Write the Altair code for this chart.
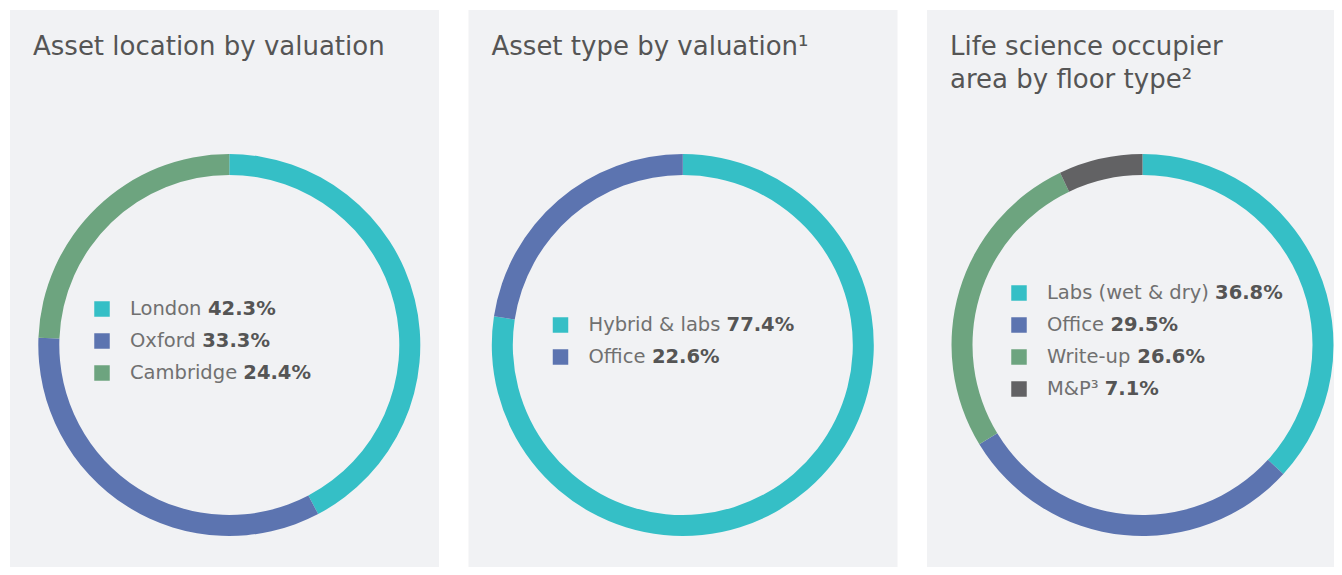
import altair as alt
import pandas as pd

# ---- data ----
titles = [
    ["Asset location by valuation"],
    ["Asset type by valuation\u00b9"],
    ["Life science occupier", "area by floor type\u00b2"],
]
cats1 = ["London", "Oxford", "Cambridge"]
vals1 = [42.3, 33.3, 24.4]
cats2 = ["Hybrid & labs", "Office"]
vals2 = [77.4, 22.6]
cats3 = ["Labs (wet & dry)", "Office", "Write-up", "M&P\u00b3"]
vals3 = [36.8, 29.5, 26.6, 7.1]

TEAL, BLUE, GREEN, DARK = "#35BFC6", "#5C74B0", "#6DA47F", "#626264"
colors1 = [TEAL, BLUE, GREEN]
colors2 = [TEAL, BLUE]
colors3 = [TEAL, BLUE, GREEN, DARK]

FONT = "DejaVu Sans"
LEG_SIZE = 19.5
BG = "#F1F2F4"

# DejaVu Sans advance widths (units per 2048) for measuring label text
W = {' ': 651, 'a': 1255, 'b': 1300, 'c': 1126, 'd': 1300, 'e': 1260, 'f': 721,
     'g': 1300, 'h': 1298, 'i': 569, 'j': 569, 'k': 1186, 'l': 569, 'm': 1995,
     'n': 1298, 'o': 1253, 'p': 1300, 'q': 1300, 'r': 842, 's': 1067, 't': 803,
     'u': 1298, 'v': 1212, 'w': 1675, 'x': 1212, 'y': 1212, 'z': 1075,
     'A': 1401, 'B': 1405, 'C': 1430, 'D': 1577, 'E': 1294, 'F': 1178, 'G': 1587,
     'H': 1540, 'I': 604, 'L': 1141, 'M': 1767, 'O': 1612, 'P': 1235, 'W': 2025,
     '&': 1595, '(': 799, ')': 799, '-': 739, '\u00b3': 821}


def text_width(s, size):
    return sum(W.get(ch, 1250) for ch in s) * size / 2048.0


def panel(title, cats, vals, colors, cx, cy, width, height):
    n = len(cats)
    df = pd.DataFrame({
        "cat": cats,
        "val": vals,
        "idx": list(range(n)),
        "pct": [f"{v:.1f}%" for v in vals],
        "name_w": [text_width(c + " ", LEG_SIZE) for c in cats],
    })
    color = alt.Color("cat:N", scale=alt.Scale(domain=cats, range=colors), legend=None)
    leg_center = cy - 4
    y0 = leg_center - (n - 1) / 2 * 32
    yenc = alt.Y("idx:Q", scale=alt.Scale(domain=[0, 1], range=[y0, y0 + 32]), axis=None)
    text_x = 120

    base = alt.Chart(df)
    arcs = base.mark_arc(innerRadius=170, outerRadius=191, x=cx, y=cy, stroke=None).encode(
        theta=alt.Theta("val:Q", stack=True),
        order=alt.Order("idx:Q"),
        color=color,
    )
    squares = base.mark_square(size=240, opacity=1, filled=True).encode(
        x=alt.value(92), y=yenc, color=color
    )
    names = base.mark_text(align="left", baseline="middle", font=FONT, fontSize=LEG_SIZE,
                           color="#707070", fontWeight="normal").encode(
        x=alt.value(text_x), y=yenc, text="cat:N"
    )
    pcts = base.mark_text(align="left", baseline="middle", font=FONT, fontSize=LEG_SIZE,
                          color="#555555", fontWeight="bold").encode(
        x=alt.X("name_w:Q", scale=alt.Scale(domain=[0, 300], range=[text_x, text_x + 300]),
                axis=None),
        y=yenc, text="pct:N"
    )
    ttl = alt.Chart(pd.DataFrame({"t": [0]})).mark_text(
        align="left", baseline="alphabetic", font=FONT, fontSize=26, color="#555555",
        lineHeight=33, text=title
    ).encode(x=alt.value(23), y=alt.value(45))
    return alt.layer(arcs, squares, names, pcts, ttl).properties(width=width, height=height)


p1 = panel(titles[0], cats1, vals1, colors1, 219.3, 335, 429, 557)
p2 = panel(titles[1], cats2, vals2, colors2, 214.3, 335, 429, 557)
p3 = panel(titles[2], cats3, vals3, colors3, 215.5, 335, 407, 557)

chart = alt.hconcat(p1, p2, p3, spacing=29.5).resolve_scale(
    color="independent", x="independent", y="independent", theta="independent"
).properties(
    padding={"left": 2, "top": 2, "right": 0, "bottom": 0},
    background="#FFFFFF",
).configure_view(fill=BG, strokeWidth=0, stroke=None)

chart.save("out.html", embed_options={"renderer": "svg", "actions": False})
